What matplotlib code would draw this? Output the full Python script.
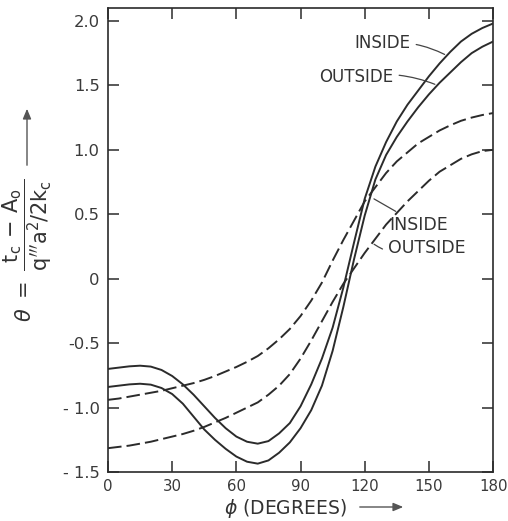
import matplotlib
matplotlib.use("Agg")
import matplotlib.pyplot as plt
import numpy as np

# --- data ---
phi = np.arange(0, 181, 5)

# solid curves
solid_inside = [-0.70, -0.69, -0.68, -0.675, -0.682, -0.708, -0.755, -0.82, -0.90,
                -0.99, -1.08, -1.16, -1.225, -1.265, -1.28, -1.26, -1.20, -1.12,
                -0.99, -0.82, -0.62, -0.38, -0.07, 0.28, 0.62, 0.87, 1.06, 1.22,
                1.35, 1.46, 1.57, 1.67, 1.76, 1.84, 1.90, 1.945, 1.98]
solid_outside = [-0.84, -0.83, -0.82, -0.815, -0.822, -0.848, -0.895, -0.97, -1.07,
                 -1.17, -1.25, -1.32, -1.38, -1.42, -1.435, -1.41, -1.35, -1.27,
                 -1.16, -1.02, -0.83, -0.56, -0.22, 0.15, 0.49, 0.77, 0.96, 1.10,
                 1.22, 1.33, 1.43, 1.52, 1.60, 1.68, 1.75, 1.80, 1.84]

# dashed curves
dashed_inside = [-0.94, -0.93, -0.915, -0.90, -0.885, -0.87, -0.85, -0.83, -0.81,
                 -0.785, -0.755, -0.72, -0.685, -0.645, -0.60, -0.54, -0.47, -0.39,
                 -0.29, -0.17, -0.03, 0.14, 0.30, 0.45, 0.60, 0.71, 0.82, 0.91,
                 0.98, 1.05, 1.10, 1.15, 1.19, 1.225, 1.25, 1.27, 1.285]
dashed_outside = [-1.315, -1.305, -1.295, -1.28, -1.265, -1.245, -1.225, -1.205, -1.18,
                  -1.15, -1.115, -1.08, -1.04, -1.00, -0.96, -0.90, -0.83, -0.74,
                  -0.62, -0.48, -0.33, -0.18, -0.04, 0.08, 0.20, 0.31, 0.42, 0.51,
                  0.60, 0.68, 0.76, 0.83, 0.88, 0.93, 0.965, 0.99, 1.00]

xticks = [0, 30, 60, 90, 120, 150, 180]
yticks = [-1.5, -1.0, -0.5, 0, 0.5, 1.0, 1.5, 2.0]
ytick_labels = ['- 1.5', '- 1.0', '-0.5', '0', '0.5', '1.0', '1.5', '2.0']

ink = '#2b2b2b'
plt.rcParams['font.family'] = ['DejaVu Sans']
plt.rcParams['mathtext.fontset'] = 'dejavusans'

fig = plt.figure(figsize=(5.08, 5.21), dpi=100)
ax = fig.add_axes([0.2126, 0.094, 0.758, 0.8906])

ax.plot(phi, solid_inside, color=ink, lw=1.4)
ax.plot(phi, solid_outside, color=ink, lw=1.4)
ax.plot(phi, dashed_inside, color=ink, lw=1.4, dashes=(7, 2.6))
ax.plot(phi, dashed_outside, color=ink, lw=1.4, dashes=(7, 2.6))

ax.set_xlim(0, 180)
ax.set_ylim(-1.5, 2.10)
ax.set_xticks(xticks)
ax.set_yticks(yticks)
ax.set_yticklabels(ytick_labels)
ax.tick_params(direction='in', length=8, width=1.1, color=ink, labelcolor='#3a3a3a',
               top=True, right=True)
ax.tick_params(axis='x', pad=5, labelsize=10.8)
ax.tick_params(axis='y', pad=6, labelsize=11.8)
for s in ax.spines.values():
    s.set_color(ink)
    s.set_linewidth(1.2)

# curve labels with leader lines
lab = dict(fontsize=12, color='#333333')
lead = dict(arrowstyle='-', color='#444444', lw=0.9)
ax.annotate('INSIDE', xy=(158.5, 1.73), xytext=(141.5, 1.83), ha='right', va='center',
            arrowprops=dict(connectionstyle='arc3,rad=-0.15', **lead), **lab)
ax.annotate('OUTSIDE', xy=(154, 1.50), xytext=(133.5, 1.565), ha='right', va='center',
            arrowprops=dict(connectionstyle='arc3,rad=-0.15', **lead), **lab)
ax.annotate('INSIDE', xy=(123.2, 0.63), xytext=(131.5, 0.42), ha='left', va='center',
            arrowprops=dict(connectionstyle='arc3,rad=0', **lead), fontsize=12.5,
            color='#333333')
ax.annotate('OUTSIDE', xy=(123.3, 0.28), xytext=(130.8, 0.24), ha='left', va='center',
            arrowprops=dict(connectionstyle='arc3,rad=-0.3', **lead), fontsize=12.5,
            color='#333333')

# axis titles with arrows
W, H = 508, 521
fig.text(27 / W, 1 - 250 / H,
         r'$\theta\ =\ \dfrac{\mathrm{t_c\,-\,A_o}}{\mathrm{q}^{\prime\prime\prime}\mathrm{a^2/2k_c}}$',
         rotation=90, ha='center', va='center', fontsize=15, color='#333333')
fig.add_artist(matplotlib.patches.FancyArrowPatch(
    (27 / W, 1 - 168 / H), (27 / W, 1 - 106 / H), transform=fig.transFigure,
    arrowstyle='-|>,head_length=6,head_width=2.5', color='#555555', lw=1.0))

fig.text(224 / W, 1 - 508 / H, r'$\phi$' + ' (DEGREES)', ha='left', va='center',
         fontsize=13.5, color='#333333')
fig.add_artist(matplotlib.patches.FancyArrowPatch(
    (357 / W, 1 - 507 / H), (406 / W, 1 - 507 / H), transform=fig.transFigure,
    arrowstyle='-|>,head_length=6,head_width=2.5', color='#555555', lw=1.0))

fig.savefig('out.png', dpi=100)
